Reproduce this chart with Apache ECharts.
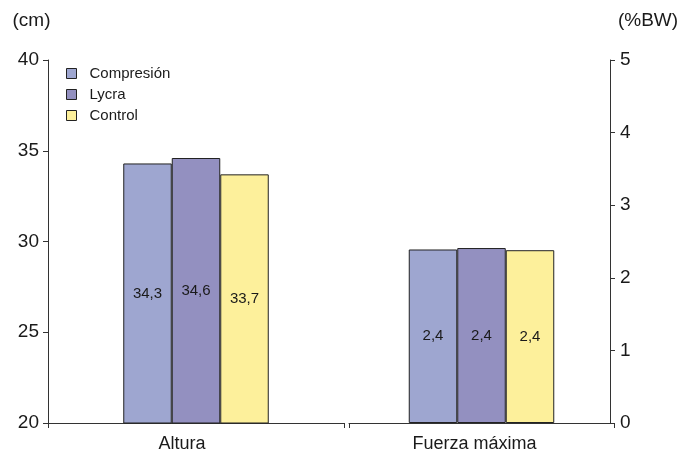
<!DOCTYPE html>
<html><head><meta charset="utf-8">
<script src="https://cdn.jsdelivr.net/npm/echarts@6/dist/echarts.min.js"></script>
<style>html,body{margin:0;padding:0;background:#fff}#c{width:688px;height:460px}</style>
</head><body><div id="c"></div>
<script>
const seriesNames = ['Compresión', 'Lycra', 'Control'];
const colors = ['#9ea6d0', '#9390c0', '#fdf09b'];
const categoriesLeft = ['Altura'];
const categoriesRight = ['Fuerza máxima'];
const altura = [34.3, 34.6, 33.7];
const fuerza = [2.39, 2.41, 2.38];

const font = 'Liberation Sans, Arial, sans-serif';
const axisColor = '#333';
const txt = '#1a1a1a';
const fmt = p => p.value.toFixed(1).replace('.', ',');

const series = [];
seriesNames.forEach((n, i) => {
  series.push({
    name: n, type: 'bar', xAxisIndex: 0, yAxisIndex: 0,
    data: [altura[i]], barWidth: 48.5, barGap: '0%',
    itemStyle: { color: colors[i], borderColor: '#222', borderWidth: 1 },
    label: { show: true, position: 'inside', formatter: fmt, color: txt, fontSize: 15, fontFamily: font }
  });
});
seriesNames.forEach((n, i) => {
  series.push({
    name: n, type: 'bar', xAxisIndex: 1, yAxisIndex: 1,
    data: [fuerza[i]], barWidth: 48.5, barGap: '0%',
    itemStyle: { color: colors[i], borderColor: '#222', borderWidth: 1 },
    label: { show: true, position: 'inside', formatter: fmt, color: txt, fontSize: 15, fontFamily: font }
  });
});

const chart = echarts.init(document.getElementById('c'));
chart.setOption({
  animation: false,
  textStyle: { fontFamily: font },
  legend: {
    data: seriesNames, orient: 'vertical', left: 61, top: 61,
    itemWidth: 10, itemHeight: 10, itemGap: 6,
    icon: 'rect',
    itemStyle: { borderColor: '#222', borderWidth: 1 },
    textStyle: { fontSize: 15, color: txt, fontFamily: font, padding: [0, 0, 0, 8] }
  },
  grid: [
    { left: 48, right: 344, top: 60, bottom: 37 },
    { left: 349, right: 74, top: 60, bottom: 37 }
  ],
  xAxis: [
    { gridIndex: 0, type: 'category', data: categoriesLeft,
      axisLine: { lineStyle: { color: axisColor } },
      axisTick: { show: true, length: 5, lineStyle: { color: axisColor } },
      axisLabel: { fontSize: 18, color: txt, margin: 12, padding: [0, 28, 0, 0] } },
    { gridIndex: 1, type: 'category', data: categoriesRight,
      axisLine: { lineStyle: { color: axisColor } },
      axisTick: { show: true, length: 5, lineStyle: { color: axisColor } },
      axisLabel: { fontSize: 18, color: txt, margin: 12, padding: [0, 14, 0, 0] } }
  ],
  yAxis: [
    { gridIndex: 0, type: 'value', min: 20, max: 40, interval: 5, position: 'left',
      name: '(cm)', nameLocation: 'end', nameGap: 30,
      nameTextStyle: { fontSize: 19, color: txt, align: 'center', padding: [0, 33, 0, 0] },
      axisLine: { show: true, lineStyle: { color: axisColor } },
      axisTick: { show: true, length: 5, lineStyle: { color: axisColor } },
      axisLabel: { fontSize: 19, color: txt, margin: 9 },
      splitLine: { show: false } },
    { gridIndex: 1, type: 'value', min: 0, max: 5, interval: 1, position: 'right', offset: -4,
      name: '(%BW)', nameLocation: 'end', nameGap: 30,
      nameTextStyle: { fontSize: 19, color: txt, align: 'center', padding: [0, 0, 0, 76] },
      axisLine: { show: true, lineStyle: { color: axisColor } },
      axisTick: { show: true, length: 5, lineStyle: { color: axisColor } },
      axisLabel: { fontSize: 19, color: txt, margin: 10 },
      splitLine: { show: false } }
  ],
  series: series
});
</script></body></html>
